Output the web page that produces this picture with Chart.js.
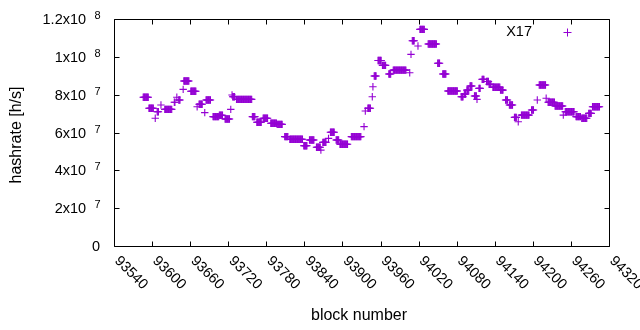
<!DOCTYPE html>
<html>
<head>
<meta charset="utf-8">
<script src="https://cdn.jsdelivr.net/npm/chart.js@4/dist/chart.umd.min.js"></script>
<style>
html,body{margin:0;padding:0;background:#fff;}
canvas{display:block;}
</style>
</head>
<body>
<canvas id="c" width="640" height="330"></canvas>
<script>
// Runs of consecutive blocks sharing the same hashrate estimate
const runStart  = [93586,93595,93605,93608,93614,93620,93635,93639,93642,93649,93650,93661,93671,93674,93683,93685,93696,93706,93715,93724,93726,93727,93733,93758,93765,93775,93787,93797,93809,93817,93839,93848,93859,93866,93869,93878,93881,93890,93896,93914,93934,93936,93940,93947,93948,93950,93956,93963,93973,93980,94006,94008,94010,94019,94022,94035,94050,94058,94066,94087,94092,94096,94101,94108,94112,94115,94120,94127,94131,94137,94149,94157,94163,94171,94177,94182,94198,94207,94210,94221,94224,94235,94248,94251,94268,94277,94288,94294];
const runLength = [9,8,1,3,1,12,2,1,3,1,9,9,1,6,1,8,10,6,8,1,1,4,25,5,8,8,10,9,6,21,6,8,7,1,6,1,7,5,13,16,1,1,5,1,1,4,6,6,4,21,1,1,4,1,8,14,4,6,16,4,3,4,4,4,1,3,4,4,4,12,5,4,6,4,1,13,4,1,11,1,11,13,1,15,8,9,5,12];
const hashrateE7 = [7.86,7.28,6.75,7.10,7.45,7.22,7.60,7.86,7.72,8.28,8.72,8.18,7.36,7.49,7.05,7.72,6.84,6.91,6.71,7.22,7.98,7.89,7.75,6.84,6.54,6.75,6.49,6.43,5.78,5.64,5.30,5.60,5.22,5.07,5.48,5.69,6.01,5.60,5.38,5.78,6.31,7.14,7.28,7.89,8.42,8.99,9.81,9.55,9.09,9.30,9.16,10.13,10.85,10.57,11.45,10.68,9.66,9.09,8.19,7.89,8.03,8.24,8.46,7.93,7.75,8.33,8.81,8.70,8.55,8.39,8.24,7.72,7.45,6.80,6.57,6.92,7.19,7.72,8.51,7.81,7.60,7.40,6.92,7.10,6.84,6.75,7.01,7.36];
const seriesName = "X17";
const xMin = 93540, xMax = 94320, xStep = 60;
const yMin = 0, yMax = 1.2e8, yStep = 2e7;
const xTitle = "block number";
const yTitle = "hashrate [h/s]";

const COLOR = "#9400D3";
const FONT = "Liberation Sans, Arial, sans-serif";

const points = [];
for (let i = 0; i < runStart.length; i++) {
  for (let k = 0; k < runLength[i]; k++) {
    points.push({x: runStart[i] + k, y: hashrateE7[i] * 1e7});
  }
}

function yLabelParts(v) {
  if (v === 0) return null;
  const e = Math.floor(Math.log10(v) + 1e-9);
  const m = Math.round(v / Math.pow(10, e) * 10) / 10;
  return {mant: String(m) + "x10", exp: String(e)};
}

const framePlugin = {
  id: 'gnuframe',
  beforeDatasetsDraw(chart) {
    const ctx = chart.ctx, a = chart.chartArea;
    const xs = chart.scales.x, ys = chart.scales.y;
    ctx.save();
    ctx.strokeStyle = "#000";
    ctx.lineWidth = 1;
    const L = Math.round(a.left) + 0.5, R = Math.round(a.right) + 0.5;
    const T = Math.round(a.top) + 0.5, B = Math.round(a.bottom) + 0.5;
    ctx.beginPath();
    ctx.rect(L, T, R - L, B - T);
    const tl = 5;
    xs.ticks.forEach(t => {
      const px = Math.round(xs.getPixelForValue(t.value)) + 0.5;
      ctx.moveTo(px, B); ctx.lineTo(px, B - tl);
      ctx.moveTo(px, T); ctx.lineTo(px, T + tl);
    });
    ys.ticks.forEach(t => {
      const py = Math.round(ys.getPixelForValue(t.value)) + 0.5;
      ctx.moveTo(L, py); ctx.lineTo(L + tl, py);
      ctx.moveTo(R, py); ctx.lineTo(R - tl, py);
    });
    ctx.stroke();
    ctx.restore();
  },
  afterDraw(chart) {
    const ctx = chart.ctx, a = chart.chartArea;
    const xs = chart.scales.x, ys = chart.scales.y;
    ctx.save();
    ctx.fillStyle = "#000";
    // Y tick labels
    ys.ticks.forEach(t => {
      const py = Math.round(ys.getPixelForValue(t.value));
      const parts = yLabelParts(t.value);
      if (!parts) {
        ctx.font = "14.5px " + FONT;
        ctx.textAlign = "right";
        ctx.textBaseline = "alphabetic";
        ctx.fillText("0", 100, py + 5.3);
      } else {
        ctx.font = "11px " + FONT;
        ctx.textAlign = "right";
        ctx.textBaseline = "alphabetic";
        ctx.fillText(parts.exp, 100.5, py + 0.3);
        const w = ctx.measureText(parts.exp).width;
        ctx.font = "14.5px " + FONT;
        ctx.fillText(parts.mant, 100.5 - w - 8.3, py + 5.3);
      }
    });
    // X tick labels rotated
    ctx.font = "14.5px " + FONT;
    ctx.textAlign = "left";
    ctx.textBaseline = "alphabetic";
    xs.ticks.forEach(t => {
      const px = xs.getPixelForValue(t.value);
      ctx.save();
      ctx.translate(px, a.bottom + 15.5);
      ctx.rotate(Math.PI / 4);
      ctx.fillText(String(t.value), 0, 0);
      ctx.restore();
    });
    // Axis titles
    ctx.font = "16px " + FONT;
    ctx.textAlign = "center";
    ctx.textBaseline = "middle";
    ctx.fillText(xTitle, 359, 316);
    ctx.save();
    ctx.translate(17, 135);
    ctx.rotate(-Math.PI / 2);
    ctx.fillText(yTitle, 0, 0);
    ctx.restore();
    // Key
    ctx.font = "14.5px " + FONT;
    ctx.textAlign = "right";
    ctx.fillText(seriesName, 532, 32);
    ctx.strokeStyle = COLOR;
    ctx.lineWidth = 1;
    ctx.beginPath();
    ctx.moveTo(563.5, 32.5); ctx.lineTo(571.5, 32.5);
    ctx.moveTo(567.5, 28.5); ctx.lineTo(567.5, 36.5);
    ctx.stroke();
    ctx.restore();
  }
};

new Chart(document.getElementById('c'), {
  type: 'scatter',
  data: {
    datasets: [{
      label: seriesName,
      data: points,
      pointStyle: 'cross',
      pointRadius: 3.7,
      pointHoverRadius: 3.7,
      borderColor: COLOR,
      backgroundColor: COLOR,
      pointBorderWidth: 1.1,
      borderWidth: 1
    }]
  },
  options: {
    responsive: false,
    animation: false,
    devicePixelRatio: 1,
    layout: {padding: {left: 114, right: 31, top: 19, bottom: 84}},
    plugins: {legend: {display: false}, tooltip: {enabled: false}},
    scales: {
      x: {
        type: 'linear', min: xMin, max: xMax,
        ticks: {stepSize: xStep, display: false},
        grid: {display: false}, border: {display: false},
        afterFit: s => { s.height = 0; }
      },
      y: {
        type: 'linear', min: yMin, max: yMax,
        ticks: {stepSize: yStep, display: false},
        grid: {display: false}, border: {display: false},
        afterFit: s => { s.width = 0; }
      }
    }
  },
  plugins: [framePlugin]
});
</script>
</body>
</html>
